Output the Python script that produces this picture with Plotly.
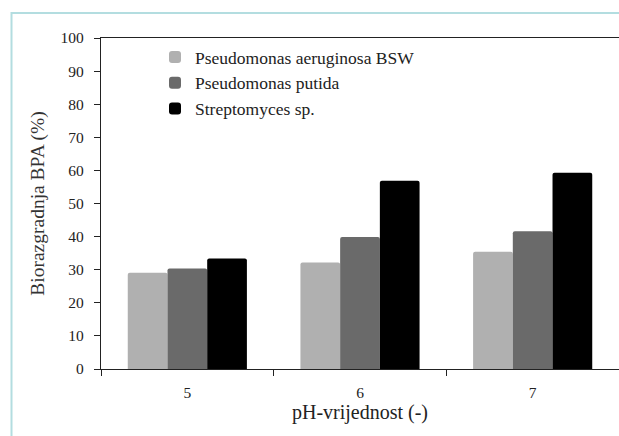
import plotly.graph_objects as go

categories = ["5", "6", "7"]
series_names = ["Pseudomonas aeruginosa BSW", "Pseudomonas putida", "Streptomyces sp."]
aeruginosa = [29.1, 32.2, 35.4]
putida = [30.4, 39.9, 41.6]
streptomyces = [33.4, 56.9, 59.3]
colors = ["#b0b0b0", "#6a6a6a", "#000000"]
y_ticks = [0, 10, 20, 30, 40, 50, 60, 70, 80, 90, 100]

FONT = "Liberation Serif"

fig = go.Figure()
for i, (name, vals) in enumerate(zip(series_names, [aeruginosa, putida, streptomyces])):
    fig.add_trace(go.Bar(
        x=categories, y=vals, name=name,
        marker=dict(color=colors[i], line=dict(width=0), cornerradius=2),
        legendgroup=f"g{i}",
    ))

W, H = 619, 436
L, R, T, B = 101, 0, 38, 67
pw, ph = W - L - R, H - T - B

def px(x):
    return (x - L) / pw

def py(y):
    return (H - B - y) / ph

fig.update_layout(
    width=W, height=H, autosize=False,
    margin=dict(l=L, r=R, t=T, b=B),
    paper_bgcolor="white", plot_bgcolor="white",
    barmode="group", bargap=0.31, bargroupgap=0,
    font=dict(family=FONT, size=15, color="#222222"),
    showlegend=True,
    legend=dict(
        x=px(155), y=py(39), xanchor="left", yanchor="top",
        bgcolor="rgba(0,0,0,0)", font=dict(family=FONT, size=17.5, color="#222222"),
        traceorder="grouped", tracegroupgap=0,
    ),
    xaxis=dict(
        type="category", showline=True, linecolor="#222222", linewidth=1.3, mirror=True,
        ticks="outside", tickson="boundaries", ticklen=6, tickcolor="#222222",
        showgrid=False, zeroline=False, ticklabelstandoff=9,
        title=dict(text="pH-vrijednost (-)", font=dict(family=FONT, size=20, color="#222222"), standoff=0),
        tickfont=dict(family=FONT, size=15.5, color="#222222"),
    ),
    yaxis=dict(
        range=[0, 100], tickvals=y_ticks, showline=True, linecolor="#222222", linewidth=1.3, mirror=True,
        ticks="outside", ticklen=6, tickcolor="#222222", showgrid=False, zeroline=False,
        ticklabelstandoff=7,
        title=dict(text="Biorazgradnja BPA (%)", font=dict(family=FONT, size=19.5, color="#333333"), standoff=10),
        tickfont=dict(family=FONT, size=15.5, color="#222222"),
    ),
    shapes=[dict(
        type="rect", xref="paper", yref="paper",
        x0=px(11.5), x1=px(630), y0=py(13), y1=py(450),
        line=dict(color="#b3dde0", width=2), fillcolor="rgba(0,0,0,0)", layer="below",
    )],
)

fig.write_html(
    "out.html",
    config={"responsive": False, "displayModeBar": False},
    default_width="619px", default_height="436px",
    post_script="document.body.style.margin='0';document.body.style.overflow='hidden';",
)
